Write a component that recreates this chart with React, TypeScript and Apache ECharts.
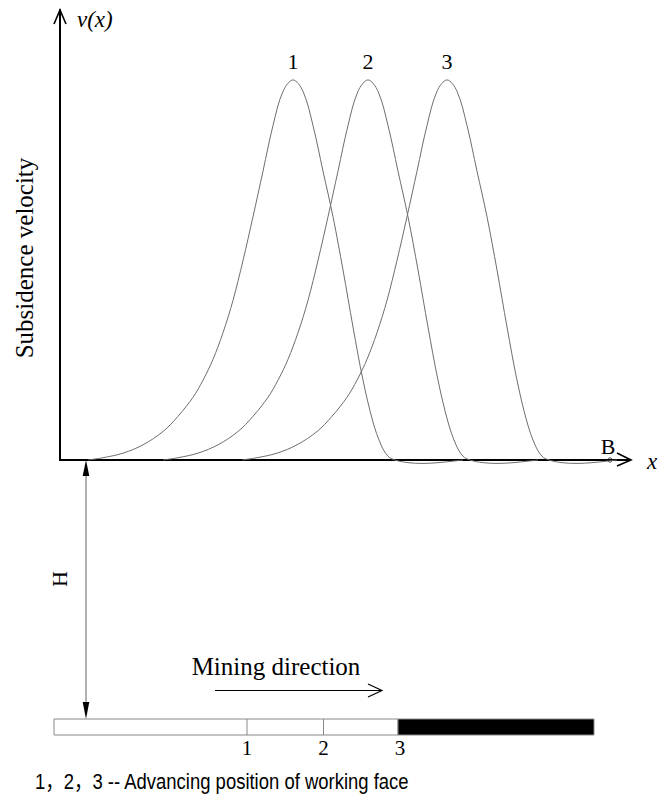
import React, { useEffect, useRef } from "react";
import * as echarts from "echarts";

// Shared velocity profile (relative to peak = 1)
const profileV = [
  0, 0.006, 0.018, 0.04, 0.075, 0.115, 0.165, 0.21, 0.265, 0.335, 0.42, 0.525, 0.64, 0.76, 0.88, 0.97,
  1.0, 0.97, 0.88, 0.76, 0.64, 0.5, 0.35, 0.21, 0.1, 0.04, 0.01, 0, -0.007, -0.009, -0.007, -0.003, 0,
];
const curve1X = [
  28, 43, 63, 83, 103, 118, 133, 143, 153, 163, 173, 183, 193, 203, 213, 223,
  233, 243, 253, 263, 273, 283, 293, 303, 313, 321, 328, 335, 348, 363, 378, 393, 403,
];
const curve2X = [
  103, 118, 138, 158, 178, 193, 208, 218, 228, 238, 248, 258, 268, 278, 288, 298,
  308, 318, 328, 338, 348, 358, 368, 378, 388, 396, 403, 410, 423, 438, 453, 468, 478,
];
const curve3X = [
  182, 197, 217, 237, 257, 272, 287, 297, 307, 317, 327, 337, 347, 357, 367, 377,
  387, 397, 407, 417, 427, 437, 447, 457, 467, 475, 482, 489, 502, 517, 532, 547, 557,
];
const curveNames = ["1", "2", "3"];
const faceLabels = ["1", "2", "3"];
const yAxisTitle = "Subsidence velocity";
const yAxisSymbol = "v(x)";
const xAxisSymbol = "x";
const pointLabel = "B";
const depthLabel = "H";
const directionLabel = "Mining direction";
const captionText = "1，2，3 -- Advancing position of working face";

const SERIF = '"Liberation Serif", "Times New Roman", serif';
const SANS = '"Liberation Sans", Arial, "Noto Sans CJK SC", sans-serif';

export default function App() {
  const ref = useRef<HTMLDivElement>(null);

  useEffect(() => {
    if (!ref.current) return;
    const chart = echarts.init(ref.current, null, { renderer: "svg" });
    const curves = [curve1X, curve2X, curve3X];
    const peakIdx = profileV.indexOf(Math.max(...profileV));

    const faceX = [247, 323.5, 398];

    const graphic: any[] = [
      // y axis arrow
      { type: "polyline", shape: { points: [[54, 24], [60, 10], [66, 24]] }, style: { stroke: "#000", lineWidth: 1.6, fill: null } },
      // x axis arrow
      { type: "polyline", shape: { points: [[617, 453], [631, 460], [617, 466]] }, style: { stroke: "#000", lineWidth: 1.6, fill: null } },
      { type: "text", x: 77, y: 19, style: { text: yAxisSymbol, font: `italic 23px ${SERIF}`, fill: "#000", textAlign: "left", textVerticalAlign: "middle" } },
      { type: "text", x: 652, y: 461, style: { text: xAxisSymbol, font: `italic 23px ${SERIF}`, fill: "#000", textAlign: "center", textVerticalAlign: "middle" } },
      { type: "text", x: 608, y: 446, style: { text: pointLabel, font: `22px ${SERIF}`, fill: "#000", textAlign: "center", textVerticalAlign: "middle" } },
      { type: "circle", shape: { cx: 610, cy: 460, r: 2.2 }, style: { fill: "#fff", stroke: "#555", lineWidth: 1 } },
      { type: "text", x: 24, y: 258, rotation: Math.PI / 2, style: { text: yAxisTitle, font: `25px ${SERIF}`, fill: "#000", textAlign: "center", textVerticalAlign: "middle" } },
      // H double arrow
      { type: "line", shape: { x1: 86, y1: 474, x2: 86, y2: 704 }, style: { stroke: "#999", lineWidth: 1.5 } },
      { type: "polygon", shape: { points: [[86, 460], [82.7, 476], [89.3, 476]] }, style: { fill: "#000" } },
      { type: "polygon", shape: { points: [[86, 719], [82.7, 702], [89.3, 702]] }, style: { fill: "#000" } },
      { type: "text", x: 59, y: 579, rotation: Math.PI / 2, style: { text: depthLabel, font: `22px ${SERIF}`, fill: "#000", textAlign: "center", textVerticalAlign: "middle" } },
      // Mining direction
      { type: "text", x: 276, y: 666, style: { text: directionLabel, font: `25px ${SERIF}`, fill: "#000", textAlign: "center", textVerticalAlign: "middle" } },
      { type: "line", shape: { x1: 215, y1: 690.5, x2: 382, y2: 690.5 }, style: { stroke: "#000", lineWidth: 1.2 } },
      { type: "polyline", shape: { points: [[368, 684], [382, 690.5], [368, 697]] }, style: { stroke: "#000", lineWidth: 1.2, fill: null } },
      // bar
      { type: "rect", shape: { x: 54, y: 719, width: 344, height: 16 }, style: { fill: "#fff", stroke: "#888", lineWidth: 1 } },
      { type: "rect", shape: { x: 398, y: 719, width: 196, height: 16 }, style: { fill: "#000", stroke: "#888", lineWidth: 1 } },
      { type: "line", shape: { x1: faceX[0], y1: 719, x2: faceX[0], y2: 735 }, style: { stroke: "#888", lineWidth: 1 } },
      { type: "line", shape: { x1: faceX[1], y1: 719, x2: faceX[1], y2: 735 }, style: { stroke: "#888", lineWidth: 1 } },
      ...faceLabels.map((t, i) => ({
        type: "text", x: faceX[i] + (i === 2 ? 2 : 0), y: 748,
        style: { text: t, font: `21px ${SERIF}`, fill: "#000", textAlign: "center", textVerticalAlign: "middle" },
      })),
      { type: "text", x: 35, y: 781, scaleX: 0.84, style: { text: captionText, font: `22px ${SANS}`, fill: "#000", textAlign: "left", textVerticalAlign: "middle" } },
    ];

    chart.setOption({
      animation: false,
      backgroundColor: "#fff",
      grid: { left: 60, top: 10, width: 570, height: 450, containLabel: false },
      xAxis: {
        type: "value", min: 0, max: 570,
        axisLine: { show: true, lineStyle: { color: "#000", width: 2 } },
        axisTick: { show: false }, axisLabel: { show: false }, splitLine: { show: false },
      },
      yAxis: {
        type: "value", min: 0, max: 1.184,
        axisLine: { show: true, lineStyle: { color: "#000", width: 2 } },
        axisTick: { show: false }, axisLabel: { show: false }, splitLine: { show: false },
      },
      series: curves.map((xs, i) => ({
        type: "line",
        name: curveNames[i],
        data: xs.map((x, j) => [x, profileV[j]]),
        smooth: 0.35,
        showSymbol: false,
        clip: false,
        silent: true,
        z: 1,
        lineStyle: { color: "#6e6e6e", width: 1 },
        markPoint: {
          symbol: "circle",
          symbolSize: 1,
          itemStyle: { color: "rgba(0,0,0,0)" },
          label: { show: true, position: "top", distance: 7, formatter: curveNames[i], color: "#000", fontSize: 22, fontFamily: SERIF },
          data: [{ coord: [xs[peakIdx], profileV[peakIdx]] }],
        },
      })),
      graphic,
    });
    return () => chart.dispose();
  }, []);

  return <div ref={ref} style={{ position: "absolute", left: 0, top: 0, width: 667, height: 796 }} />;
}
